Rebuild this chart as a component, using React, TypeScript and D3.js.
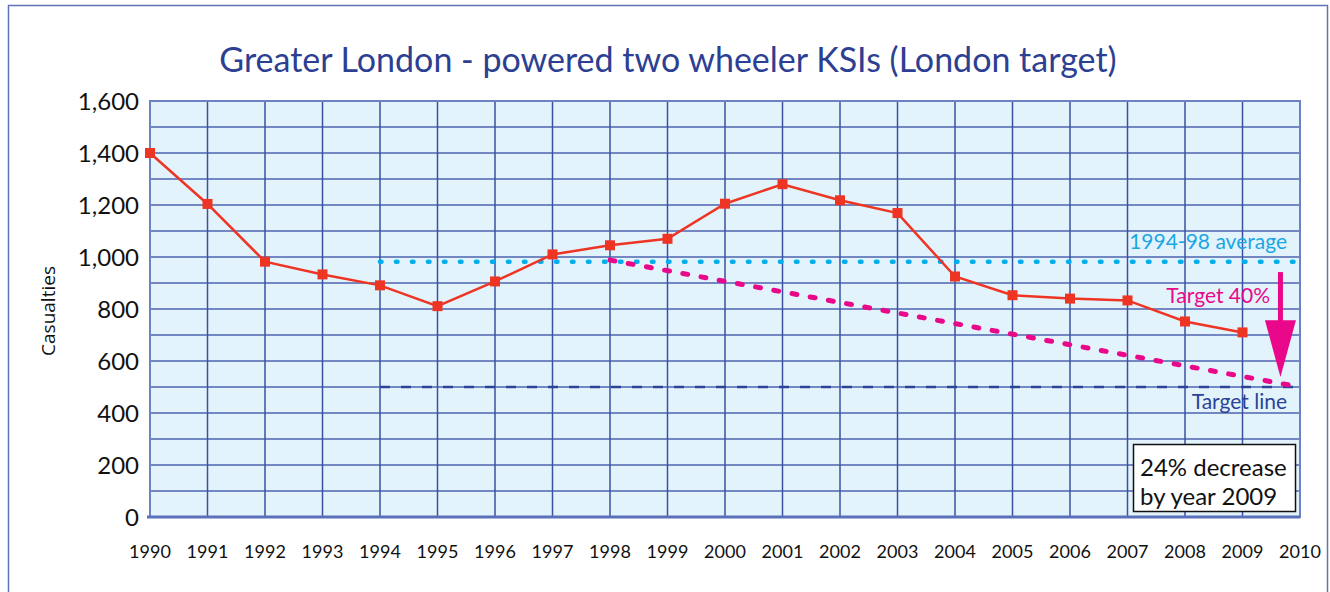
import React from 'react';
import * as d3 from 'd3';

// years on the x axis (1990..2010) and recorded casualties (1990..2009)
const years = [1990, 1991, 1992, 1993, 1994, 1995, 1996, 1997, 1998, 1999, 2000, 2001, 2002, 2003, 2004, 2005, 2006, 2007, 2008, 2009, 2010];
const dataYears = [1990, 1991, 1992, 1993, 1994, 1995, 1996, 1997, 1998, 1999, 2000, 2001, 2002, 2003, 2004, 2005, 2006, 2007, 2008, 2009];
const casualties = [1400, 1204, 982, 933, 891, 811, 906, 1010, 1045, 1070, 1205, 1280, 1218, 1169, 925, 853, 840, 833, 752, 710];

const yTicks = [0, 200, 400, 600, 800, 1000, 1200, 1400, 1600];
const yGrid = [100, 200, 300, 400, 500, 600, 700, 800, 900, 1000, 1100, 1200, 1300, 1400, 1500];

// reference lines
const averageYears = [1994, 2010];
const averageValue = 982;
const targetLineYears = [1994, 2010];
const targetLineValue = 500;
const targetPathYears = [1998, 2010];
const targetPathValues = [988, 500];
const arrowYear = 2009.66;
const arrowFrom = 942;
const arrowHead = 757;
const arrowTo = 538;

const W = 1330;
const H = 592;
const margin = { top: 101, right: 30, bottom: 75, left: 150 };
const FONT = 'Lato, "Open Sans", sans-serif';

export default function App() {
  const x = d3.scaleLinear().domain([1990, 2010]).range([margin.left, W - margin.right]);
  const y = d3.scaleLinear().domain([0, 1600]).range([H - margin.bottom, margin.top]);

  const line = d3.line<number>()
    .x((_, i) => x(dataYears[i]))
    .y(d => y(d));

  const fmt = d3.format(',');
  const ax = x(arrowYear);

  return (
    <div style={{ position: 'fixed', left: 0, top: 0 }}>
      <svg width={W} height={H} style={{ display: 'block', fontFamily: FONT }}>
        <rect x={0} y={0} width={W} height={H} fill="#fff" />
        {/* outer frame */}
        <rect x={8.5} y={5.5} width={1319} height={620} fill="none" stroke="#5f74b8" strokeWidth={1.5} />

        <text x={668} y={72} textAnchor="middle" fontSize={34} fill="#2c3f92">
          Greater London - powered two wheeler KSIs (London target)
        </text>

        {/* plot background */}
        <rect x={x(1990)} y={y(1600)} width={x(2010) - x(1990)} height={y(0) - y(1600)} fill="#e3f3fc" />

        {/* horizontal grid */}
        {yGrid.map(v => (
          <line key={'h' + v} x1={x(1990)} x2={x(2010)} y1={y(v)} y2={y(v)} stroke="#7388c2" strokeWidth={2} />
        ))}
        {/* vertical grid */}
        {years.map(yr => (
          <line key={'v' + yr} x1={x(yr)} x2={x(yr)} y1={y(1600)} y2={y(0)} stroke="#3a50a2" strokeWidth={1.5} />
        ))}
        {/* frame */}
        <rect x={x(1990)} y={y(1600)} width={x(2010) - x(1990)} height={y(0) - y(1600)} fill="none" stroke="#6d82c0" strokeWidth={2} />
        <line x1={x(1990) - 3} x2={x(2010)} y1={y(0)} y2={y(0)} stroke="#5a70b8" strokeWidth={3} />

        {/* 1994-98 average */}
        <line x1={x(averageYears[0])} x2={x(averageYears[1])} y1={y(averageValue)} y2={y(averageValue)}
          stroke="#00aeef" strokeWidth={4.5} strokeDasharray="1.5,14.5" strokeLinecap="round" />
        {/* target line */}
        <line x1={x(targetLineYears[0])} x2={x(targetLineYears[1])} y1={y(targetLineValue)} y2={y(targetLineValue)}
          stroke="#2d4396" strokeWidth={2.5} strokeDasharray="10,11" />
        {/* target path */}
        <line x1={x(targetPathYears[0])} x2={x(targetPathYears[1])} y1={y(targetPathValues[0])} y2={y(targetPathValues[1])}
          stroke="#e9078a" strokeWidth={5} strokeDasharray="5,13.5" strokeLinecap="round" />

        {/* casualties */}
        <path d={line(casualties) || ''} fill="none" stroke="#ee3524" strokeWidth={2.5} />
        {casualties.map((v, i) => (
          <rect key={'m' + i} x={x(dataYears[i]) - 5} y={y(v) - 5} width={10} height={10} fill="#ee3524" />
        ))}

        {/* arrow */}
        <rect x={ax - 2.5} y={y(arrowFrom)} width={5} height={y(arrowHead) - y(arrowFrom) + 1} fill="#e9078a" />
        <path d={`M${ax - 15.5},${y(arrowHead)} L${ax + 15.5},${y(arrowHead)} L${ax},${y(arrowTo)} Z`} fill="#e9078a" />

        {/* annotations */}
        <text x={1287} y={249} textAnchor="end" fontSize={21} fill="#1ba6e4">1994-98 average</text>
        <text x={1270} y={303} textAnchor="end" fontSize={21} fill="#e9078a">Target 40%</text>
        <text x={1287} y={409} textAnchor="end" fontSize={21} fill="#2d4396">Target line</text>

        <rect x={1133.5} y={444.5} width={162} height={67} fill="#fff" stroke="#111" strokeWidth={1.5} />
        <text x={1140} y={476} fontSize={24} fill="#111">24% decrease</text>
        <text x={1140} y={505} fontSize={24} fill="#111">by year 2009</text>

        {/* y axis */}
        {yTicks.map(v => (
          <text key={'yt' + v} x={139} y={y(v)} dy="0.36em" textAnchor="end" fontSize={24} fill="#111">{fmt(v)}</text>
        ))}
        <text transform={`translate(55,311) rotate(-90)`} textAnchor="middle" fontSize={19}
          fontFamily='"Open Sans", sans-serif' fill="#111">Casualties</text>

        {/* x axis */}
        {years.map(yr => (
          <text key={'xt' + yr} x={x(yr)} y={558} textAnchor="middle" fontSize={18} fill="#111">{yr}</text>
        ))}
      </svg>
    </div>
  );
}
